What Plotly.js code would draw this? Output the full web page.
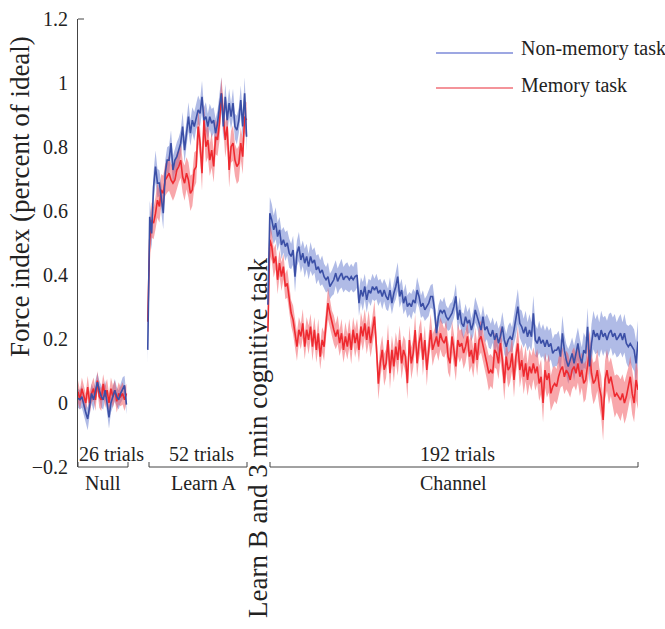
<!DOCTYPE html>
<html><head><meta charset="utf-8">
<script src="https://cdn.plot.ly/plotly-3.0.1.min.js"></script>
<style>html,body{margin:0;padding:0;background:#fff}#chart{width:665px;height:629px}</style>
</head><body><div id="chart"></div>
<script>
// ---------- data ----------
const phaseNames = ["Null", "Learn A", "Channel"];
const trialLabels = ["26 trials", "52 trials", "192 trials"];
const seriesNames = ["Non-memory task", "Memory task"];
const yTickVals = [-0.2, 0, 0.2, 0.4, 0.6, 0.8, 1, 1.2];
const yTickText = ["\u22120.2", "0", "0.2", "0.4", "0.6", "0.8", "1", "1.2"];

const nullBlue = [0.015,0.01,0.02,-0.01,-0.03,-0.05,-0.01,0.03,0.01,0.04,0.065,0.04,0.02,0.01,0.04,0.0,-0.045,0.0,0.02,0.04,0.02,0.01,0.03,0.045,0.055,-0.005];
const nullRed  = [0.035,0.01,0.045,0.02,0.0,0.05,0.0,0.03,0.045,0.01,0.07,0.02,0.01,0.06,0.02,0.04,0.0,0.045,0.02,0.04,0.005,0.03,0.02,0.03,0.01,0.03];
const nullSeBlue = [0.03,0.03,0.035,0.03,0.03,0.035,0.03,0.03,0.035,0.03,0.03,0.03,0.035,0.03,0.03,0.03,0.035,0.03,0.03,0.035,0.03,0.03,0.03,0.035,0.03,0.03];
const nullSeRed  = [0.035,0.03,0.035,0.035,0.03,0.035,0.035,0.03,0.035,0.035,0.03,0.035,0.035,0.03,0.035,0.035,0.03,0.035,0.035,0.03,0.035,0.035,0.03,0.035,0.035,0.03];

const learnBlue = [0.166,0.582,0.53,0.676,0.739,0.687,0.687,0.634,0.593,0.718,
  0.759,0.759,0.812,0.728,0.759,0.77,0.79,0.812,0.864,0.79,
  0.843,0.895,0.843,0.884,0.864,0.895,0.916,0.905,0.957,0.884,
  0.895,0.864,0.895,0.874,0.884,0.843,0.874,0.926,0.968,0.864,
  0.957,0.884,0.937,0.895,0.937,0.864,0.853,0.884,0.947,0.864,
  0.968,0.832];
const learnRed = [0.254,0.51,0.572,0.562,0.593,0.634,0.614,0.666,0.655,0.697,
  0.707,0.718,0.697,0.687,0.697,0.728,0.739,0.759,0.707,0.687,
  0.718,0.697,0.655,0.666,0.728,0.739,0.864,0.812,0.718,0.884,
  0.801,0.822,0.759,0.79,0.739,0.832,0.822,0.874,0.968,0.905,
  0.822,0.864,0.728,0.801,0.812,0.759,0.739,0.749,0.812,0.77,
  0.895,0.884];
const learnSeBlue = [0.04,0.05,0.05,0.045,0.05,0.045,0.04,0.045,0.05,0.04,
  0.04,0.045,0.04,0.045,0.04,0.045,0.04,0.04,0.045,0.04,
  0.04,0.045,0.04,0.04,0.045,0.04,0.045,0.04,0.05,0.04,
  0.045,0.04,0.04,0.045,0.04,0.045,0.04,0.04,0.05,0.045,
  0.04,0.045,0.045,0.04,0.045,0.04,0.045,0.04,0.045,0.04,
  0.05,0.045];
const learnSeRed = [0.04,0.05,0.055,0.05,0.05,0.055,0.05,0.05,0.055,0.05,
  0.05,0.055,0.05,0.055,0.05,0.055,0.05,0.055,0.05,0.055,
  0.05,0.055,0.055,0.05,0.055,0.05,0.055,0.05,0.055,0.05,
  0.05,0.055,0.05,0.055,0.05,0.055,0.05,0.055,0.05,0.05,
  0.055,0.05,0.055,0.05,0.055,0.05,0.055,0.055,0.05,0.055,
  0.05,0.055];

const chanBlue = [0.307,0.593,0.572,0.541,0.562,0.52,0.541,0.494,0.51,0.489,
  0.5,0.468,0.458,0.478,0.395,0.468,0.489,0.447,0.468,0.437,
  0.458,0.426,0.458,0.437,0.447,0.416,0.426,0.406,0.416,0.395,
  0.385,0.395,0.364,0.374,0.385,0.406,0.38,0.395,0.406,0.385,
  0.395,0.395,0.385,0.395,0.385,0.395,0.4,0.312,0.353,0.333,
  0.364,0.322,0.353,0.343,0.364,0.353,0.364,0.343,0.353,0.333,
  0.353,0.333,0.322,0.353,0.312,0.343,0.364,0.395,0.333,0.353,
  0.312,0.333,0.301,0.312,0.301,0.322,0.312,0.353,0.333,0.301,
  0.312,0.291,0.301,0.312,0.333,0.333,0.291,0.218,0.27,0.291,
  0.281,0.291,0.27,0.26,0.27,0.281,0.301,0.333,0.26,0.291,
  0.249,0.239,0.27,0.249,0.26,0.228,0.249,0.291,0.27,0.249,
  0.228,0.27,0.228,0.239,0.218,0.208,0.228,0.197,0.218,0.187,
  0.208,0.239,0.197,0.176,0.197,0.207,0.197,0.228,0.259,0.301,
  0.249,0.238,0.218,0.238,0.207,0.228,0.207,0.28,0.197,0.186,
  0.207,0.186,0.197,0.176,0.197,0.176,0.186,0.155,0.165,0.165,
  0.176,0.145,0.218,0.165,0.134,0.114,0.134,0.155,0.124,0.155,
  0.186,0.145,0.124,0.165,0.155,0.238,0.114,0.186,0.228,0.207,
  0.218,0.197,0.228,0.207,0.218,0.197,0.218,0.228,0.207,0.218,
  0.197,0.207,0.218,0.197,0.218,0.186,0.176,0.186,0.176,0.165,
  0.124,0.192];
const chanRed = [0.223,0.51,0.489,0.437,0.458,0.385,0.437,0.395,0.426,0.364,
  0.374,0.322,0.281,0.26,0.218,0.176,0.229,0.208,0.249,0.176,
  0.229,0.197,0.239,0.176,0.229,0.166,0.218,0.145,0.197,0.176,
  0.249,0.312,0.281,0.249,0.229,0.208,0.229,0.187,0.218,0.166,
  0.208,0.176,0.218,0.166,0.229,0.187,0.218,0.166,0.239,0.208,
  0.249,0.197,0.239,0.187,0.229,0.27,0.176,0.06,0.125,0.166,
  0.104,0.124,0.197,0.093,0.166,0.114,0.176,0.135,0.197,0.124,
  0.166,0.145,0.062,0.197,0.124,0.156,0.228,0.124,0.187,0.218,
  0.135,0.197,0.103,0.176,0.228,0.166,0.187,0.208,0.176,0.218,
  0.197,0.187,0.208,0.145,0.124,0.208,0.166,0.114,0.197,0.176,
  0.187,0.156,0.176,0.208,0.145,0.166,0.124,0.187,0.135,0.197,
  0.208,0.176,0.145,0.124,0.093,0.103,0.093,0.166,0.156,0.124,
  0.187,0.135,0.062,0.145,0.103,0.114,0.155,0.072,0.145,0.186,
  0.103,0.134,0.082,0.124,0.072,0.114,0.093,0.124,0.093,0.114,
  0.061,0.082,0.0,0.103,0.072,0.093,0.03,0.051,0.061,0.051,
  0.082,0.103,0.114,0.082,0.103,0.093,0.072,0.103,0.114,0.093,
  0.124,0.082,0.103,0.061,0.072,0.124,0.166,0.093,0.061,0.072,
  0.103,0.051,0.02,-0.053,0.072,0.103,0.061,0.082,0.051,0.02,
  0.03,0.02,0.009,0.03,0.0,0.02,0.051,0.082,0.03,0.0,
  0.072,0.041];
const chanSeBlue = [0.03,0.05,0.05,0.045,0.05,0.045,0.04,0.045,0.04,0.045,
  0.04,0.045,0.04,0.045,0.05,0.04,0.045,0.04,0.04,0.045,
  0.04,0.04,0.045,0.04,0.04,0.045,0.04,0.04,0.045,0.04,
  0.04,0.045,0.04,0.04,0.045,0.04,0.04,0.04,0.045,0.04,
  0.04,0.045,0.04,0.04,0.04,0.045,0.04,0.04,0.04,0.045,
  0.04,0.04,0.035,0.04,0.04,0.035,0.04,0.04,0.035,0.04,
  0.035,0.04,0.035,0.04,0.035,0.035,0.04,0.045,0.035,0.035,
  0.035,0.04,0.035,0.035,0.04,0.035,0.035,0.04,0.035,0.035,
  0.04,0.035,0.035,0.04,0.035,0.04,0.035,0.04,0.035,0.035,
  0.035,0.04,0.035,0.035,0.04,0.035,0.035,0.04,0.035,0.04,
  0.035,0.04,0.04,0.035,0.04,0.035,0.04,0.04,0.035,0.04,
  0.04,0.035,0.04,0.04,0.045,0.04,0.04,0.045,0.04,0.045,
  0.04,0.045,0.045,0.04,0.045,0.045,0.04,0.045,0.05,0.055,
  0.045,0.05,0.045,0.05,0.045,0.05,0.045,0.055,0.05,0.045,
  0.05,0.045,0.05,0.05,0.045,0.05,0.05,0.045,0.05,0.05,
  0.05,0.05,0.055,0.05,0.05,0.055,0.05,0.05,0.055,0.05,
  0.05,0.055,0.05,0.055,0.05,0.06,0.055,0.06,0.06,0.055,
  0.06,0.055,0.06,0.06,0.055,0.06,0.06,0.055,0.06,0.06,
  0.055,0.06,0.06,0.055,0.06,0.06,0.065,0.06,0.065,0.065,
  0.07,0.065];
const chanSeRed = [0.03,0.05,0.045,0.045,0.04,0.045,0.04,0.045,0.04,0.04,
  0.045,0.04,0.04,0.045,0.04,0.045,0.04,0.04,0.045,0.04,
  0.04,0.045,0.04,0.045,0.04,0.04,0.045,0.04,0.04,0.045,
  0.045,0.05,0.045,0.04,0.045,0.04,0.045,0.04,0.045,0.04,
  0.045,0.04,0.045,0.045,0.04,0.045,0.045,0.04,0.045,0.045,
  0.045,0.045,0.05,0.045,0.045,0.05,0.045,0.05,0.05,0.045,
  0.05,0.045,0.05,0.05,0.045,0.05,0.045,0.05,0.045,0.05,
  0.045,0.05,0.05,0.045,0.05,0.045,0.05,0.045,0.05,0.045,
  0.05,0.045,0.05,0.045,0.05,0.05,0.045,0.05,0.045,0.05,
  0.05,0.045,0.05,0.05,0.045,0.05,0.05,0.045,0.05,0.05,
  0.045,0.05,0.05,0.045,0.05,0.05,0.045,0.05,0.05,0.05,
  0.05,0.045,0.05,0.05,0.055,0.05,0.05,0.055,0.05,0.05,
  0.055,0.05,0.055,0.05,0.055,0.05,0.055,0.055,0.05,0.055,
  0.055,0.05,0.055,0.055,0.05,0.055,0.055,0.05,0.055,0.055,
  0.055,0.055,0.06,0.055,0.055,0.06,0.055,0.06,0.055,0.055,
  0.06,0.055,0.06,0.055,0.06,0.06,0.055,0.06,0.06,0.055,
  0.06,0.06,0.055,0.06,0.06,0.065,0.06,0.06,0.065,0.06,
  0.065,0.06,0.065,0.065,0.06,0.065,0.065,0.06,0.065,0.065,
  0.06,0.065,0.065,0.06,0.065,0.065,0.06,0.065,0.065,0.06,
  0.065,0.06];

// ---------- layout constants ----------
const segOffset = [0, 36, 98];          // x position of first trial of each phase (gap between phases)
const xRange = [0, 289];
const FONT = "Liberation Serif";
const BLUE = "#3b4fa6", BLUE_FILL = "rgba(80,105,200,0.45)", BLUE_LEG = "#7d8ad8";
const RED = "#ee2a30", RED_FILL = "rgba(242,80,88,0.5)", RED_LEG = "#f07078";

const segments = [
  {blue: nullBlue, red: nullRed, seB: nullSeBlue, seR: nullSeRed},
  {blue: learnBlue, red: learnRed, seB: learnSeBlue, seR: learnSeRed},
  {blue: chanBlue, red: chanRed, seB: chanSeBlue, seR: chanSeRed}
];

const bandTraces = [], redLines = [], blueLines = [];
function band(xs, ys, se, fill) {
  bandTraces.push({x: xs, y: ys.map((v, i) => v - se[i]), type: "scatter", mode: "lines",
    line: {width: 0, color: "rgba(0,0,0,0)"}, showlegend: false, hoverinfo: "skip"});
  bandTraces.push({x: xs, y: ys.map((v, i) => v + se[i]), type: "scatter", mode: "lines",
    fill: "tonexty", fillcolor: fill, line: {width: 0, color: "rgba(0,0,0,0)"},
    showlegend: false, hoverinfo: "skip"});
}
segments.forEach((s, k) => {
  const xs = s.blue.map((_, i) => segOffset[k] + i);
  band(xs, s.blue, s.seB, BLUE_FILL);
  band(xs, s.red, s.seR, RED_FILL);
  redLines.push({x: xs, y: s.red, type: "scatter", mode: "lines", name: seriesNames[1],
    line: {color: RED, width: 1.6}, showlegend: false});
  blueLines.push({x: xs, y: s.blue, type: "scatter", mode: "lines", name: seriesNames[0],
    line: {color: BLUE, width: 1.6}, showlegend: false});
});
const traces = bandTraces.concat(redLines, blueLines);

// plot area in pixels: x 78..638, y 19..467
const L = 78, T = 19, W = 560, H = 448;
const px = v => (v - L) / W;
const py = v => (T + H - v) / H;

const brackets = [[78, 128], [149, 247], [270, 638]];
const shapes = brackets.map(b => ({
  type: "path", xref: "paper", yref: "paper",
  path: `M ${px(b[0])},${py(462)} L ${px(b[0])},${py(467)} L ${px(b[1])},${py(467)} L ${px(b[1])},${py(462)}`,
  line: {color: "#444", width: 1}
}));
shapes.push({type: "line", xref: "paper", yref: "paper", x0: 0, x1: px(84), y0: 1, y1: 1, line: {color: "#444", width: 1}});
shapes.push({type: "line", xref: "paper", yref: "paper", x0: px(436), x1: px(513), y0: py(53), y1: py(53), line: {color: BLUE_LEG, width: 1.5}});
shapes.push({type: "line", xref: "paper", yref: "paper", x0: px(436), x1: px(513), y0: py(88), y1: py(88), line: {color: RED_LEG, width: 1.5}});

const txt = (text, x, y, size, extra) => Object.assign({
  text, xref: "paper", yref: "paper", x: px(x), y: py(y), showarrow: false,
  xanchor: "center", yanchor: "middle",
  font: {family: FONT, size: size, color: "#222"}
}, extra || {});

const trialX = [111, 201, 457], phaseX = [103, 204, 454];
const annotations = [];
trialLabels.forEach((t, k) => annotations.push(txt(t, trialX[k], 454, 20)));
phaseNames.forEach((t, k) => annotations.push(txt(t, phaseX[k], 483, 20)));
annotations.push(txt("Learn B and 3 min cognitive task", 258, 438, 27, {textangle: -90}));
annotations.push(txt("Force index (percent of ideal)", 20, 197, 27, {textangle: -90}));
annotations.push(txt(seriesNames[0], 519, 49, 20, {xanchor: "left"}));
annotations.push(txt(seriesNames[1], 519, 85, 20, {xanchor: "left"}));

const layout = {
  width: 665, height: 629,
  margin: {l: L, r: 665 - L - W, t: T, b: 629 - T - H},
  paper_bgcolor: "#fff", plot_bgcolor: "#fff",
  showlegend: false,
  font: {family: FONT},
  xaxis: {range: xRange, showgrid: false, zeroline: false, showline: false, showticklabels: false, ticks: ""},
  yaxis: {range: [-0.2, 1.2], tickvals: yTickVals, ticktext: yTickText,
    showgrid: false, zeroline: false, showline: true, linecolor: "#444", linewidth: 1,
    ticks: "outside", ticklen: 5, tickcolor: "rgba(0,0,0,0)",
    tickfont: {family: FONT, size: 20, color: "#222"}},
  shapes, annotations
};
Plotly.newPlot("chart", traces, layout, {displayModeBar: false, staticPlot: true});
</script></body></html>
